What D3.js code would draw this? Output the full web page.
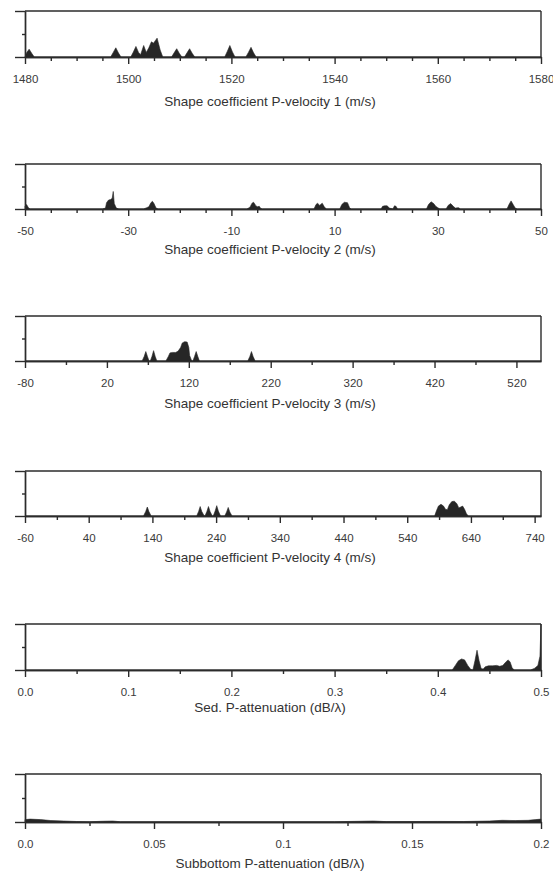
<!DOCTYPE html>
<html lang="en">
<head>
<meta charset="UTF-8">
<title>Shape coefficient and attenuation distributions</title>
<style>
  body { margin: 0; background: #fff; }
  svg { display: block; }
  .axis path, .axis line { stroke: #2b2b2b; stroke-width: 1.4px; fill: none; }
  .axis text { font-family: 'Liberation Sans', Arial, sans-serif; font-size: 11.5px; fill: #3a3a3a; }
  .frame { stroke: #2b2b2b; stroke-width: 1.4px; fill: none; }
  .title { font-family: 'Liberation Sans', Arial, sans-serif; font-size: 13.5px; fill: #333; text-anchor: middle; }
  .dens { fill: #262626; stroke: #262626; stroke-width: 0.6px; }
</style>
</head>
<body>
<svg width="553" height="883"></svg>
<script src="https://d3js.org/d3.v7.min.js"></script>
<script>
// Panel 1: Shape coefficient P-velocity 1
const p1Major = [1480, 1500, 1520, 1540, 1560, 1580];
const p1Minor = [1485, 1490, 1495, 1505, 1510, 1515, 1525, 1530, 1535, 1545, 1550, 1555, 1565, 1570, 1575];
const p1Value = [1480, 1480.3, 1480.8, 1481.3, 1481.8,
  1496.6, 1497.1, 1497.6, 1498.1, 1498.6,
  1500.5, 1501, 1501.5, 1502, 1502.4, 1503, 1503.5, 1504, 1504.5, 1504.9, 1505.6, 1506.2, 1506.7,
  1508.4, 1508.9, 1509.4, 1509.9, 1510.4,
  1510.9, 1511.4, 1511.9, 1512.4, 1512.9,
  1518.7, 1519.2, 1519.7, 1520.2, 1520.7,
  1522.8, 1523.3, 1523.8, 1524.3, 1524.8, 1580];
const p1Density = [0, 0.09, 0.17, 0.08, 0,
  0, 0.1, 0.2, 0.09, 0,
  0, 0.11, 0.23, 0.1, 0.05, 0.25, 0.1, 0.2, 0.33, 0.3, 0.41, 0.15, 0,
  0, 0.09, 0.18, 0.08, 0,
  0, 0.09, 0.18, 0.08, 0,
  0, 0.12, 0.25, 0.11, 0,
  0, 0.1, 0.21, 0.09, 0, 0];

// Panel 2: Shape coefficient P-velocity 2
const p2Major = [-50, -30, -10, 10, 30, 50];
const p2Minor = [-45, -40, -35, -25, -20, -15, -5, 0, 5, 15, 20, 25, 35, 40, 45];
const p2Value = [-50, -49.7, -49.3, -49,
  -35, -34.4, -34.2, -33.8, -33.4, -33.1, -32.9, -32.7, -32.3, -31.8,
  -27, -26.4, -26, -25.6, -25.3, -25, -24.6, -24.2,
  -7, -6.4, -6, -5.7, -5.3, -5, -4.6, -4.3, -4,
  6, 6.4, 6.7, 7.1, 7.6, 8, 8.4,
  11, 11.4, 11.9, 12.5, 12.9, 13.2,
  19, 19.3, 19.7, 20.2, 20.6, 21.3, 21.6, 21.9, 22.2,
  27.8, 28.2, 28.7, 29.2, 29.6, 30, 30.4,
  31.6, 32, 32.5, 33, 33.4, 34, 34.4,
  43.4, 43.8, 44.2, 44.6, 45, 45.4, 50];
const p2Density = [0.06, 0.1, 0.02, 0,
  0, 0.02, 0.14, 0.2, 0.21, 0.24, 0.39, 0.12, 0.02, 0,
  0, 0.03, 0.05, 0.14, 0.17, 0.12, 0.02, 0,
  0, 0.04, 0.13, 0.15, 0.08, 0.05, 0.06, 0.01, 0,
  0, 0.1, 0.13, 0.08, 0.13, 0.05, 0,
  0, 0.1, 0.15, 0.14, 0.03, 0,
  0, 0.06, 0.07, 0.07, 0.02, 0, 0.07, 0.06, 0,
  0, 0.1, 0.16, 0.12, 0.06, 0.03, 0,
  0, 0.08, 0.12, 0.06, 0.02, 0.03, 0,
  0, 0.1, 0.18, 0.1, 0.02, 0, 0];

// Panel 3: Shape coefficient P-velocity 3
const p3Major = [-80, 20, 120, 220, 320, 420, 520];
const p3Minor = [-30, 70, 170, 270, 370, 470];
const p3Value = [-80, 63, 65.5, 67.5, 69.5, 71.5,
  73, 75, 77, 79, 81,
  92, 95, 97, 100, 104, 107, 110, 112, 115, 118, 120, 121, 123, 124,
  125, 127, 129, 131, 133,
  192, 194.5, 196.5, 198.5, 201, 550];
const p3Density = [0, 0, 0.1, 0.21, 0.1, 0,
  0, 0.1, 0.23, 0.1, 0,
  0, 0.1, 0.18, 0.19, 0.19, 0.22, 0.3, 0.4, 0.43, 0.42, 0.3, 0.12, 0.03, 0,
  0, 0.1, 0.21, 0.1, 0,
  0, 0.1, 0.21, 0.1, 0, 0];

// Panel 4: Shape coefficient P-velocity 4
const p4Major = [-60, 40, 140, 240, 340, 440, 540, 640, 740];
const p4Minor = [-10, 90, 190, 290, 390, 490, 590, 690];
const p4Value = [-60, 126, 129.5, 132, 134.5, 138,
  209.5, 212.5, 215, 217.5, 221,
  222.5, 225.5, 228, 230.5, 234,
  235.5, 238.5, 241, 243.5, 247,
  253.5, 256.5, 259, 261.5, 265,
  583, 586, 589, 593, 597, 600, 603, 606, 610, 614, 618, 621, 624, 627, 630, 633, 636, 750];
const p4Density = [0, 0, 0.1, 0.2, 0.1, 0,
  0, 0.1, 0.21, 0.1, 0.01,
  0, 0.1, 0.21, 0.1, 0,
  0, 0.11, 0.23, 0.11, 0,
  0, 0.09, 0.19, 0.09, 0,
  0, 0.12, 0.22, 0.26, 0.22, 0.15, 0.14, 0.25, 0.32, 0.33, 0.27, 0.18, 0.2, 0.22, 0.15, 0.05, 0, 0];

// Panel 5: Sed. P-attenuation
const p5Major = [0, 0.1, 0.2, 0.3, 0.4, 0.5];
const p5Minor = [0.05, 0.15, 0.25, 0.35, 0.45];
const p5Value = [0, 0.414, 0.417, 0.42, 0.423, 0.426, 0.429, 0.432,
  0.434, 0.436, 0.438, 0.44, 0.442, 0.444,
  0.446, 0.449, 0.453, 0.457, 0.46, 0.463, 0.465, 0.468, 0.47, 0.472, 0.474,
  0.49, 0.494, 0.497, 0.499, 0.5];
const p5Density = [0, 0, 0.1, 0.2, 0.24, 0.22, 0.1, 0.01,
  0, 0.2, 0.43, 0.2, 0.03, 0.02,
  0.07, 0.09, 0.09, 0.1, 0.08, 0.1, 0.15, 0.22, 0.18, 0.05, 0,
  0, 0.04, 0.1, 0.3, 1.0];

// Panel 6: Subbottom P-attenuation
const p6Major = [0, 0.05, 0.1, 0.15, 0.2];
const p6Minor = [0.025, 0.075, 0.125, 0.175];
const p6Value = [0, 0.002, 0.006, 0.01, 0.015, 0.02, 0.025, 0.03, 0.034, 0.037, 0.05, 0.08, 0.1, 0.12,
  0.13, 0.135, 0.14, 0.15, 0.16, 0.17, 0.18, 0.185, 0.19, 0.195, 0.198, 0.2];
const p6Density = [0.05, 0.06, 0.05, 0.03, 0.02, 0.01, 0.005, 0.015, 0.02, 0.005, 0.005, 0.004, 0.004, 0.006,
  0.015, 0.02, 0.008, 0.01, 0.012, 0.01, 0.02, 0.035, 0.03, 0.035, 0.05, 0.06];

const titles = [
  "Shape coefficient P-velocity 1 (m/s)",
  "Shape coefficient P-velocity 2 (m/s)",
  "Shape coefficient P-velocity 3 (m/s)",
  "Shape coefficient P-velocity 4 (m/s)",
  "Sed. P-attenuation (dB/\u03bb)",
  "Subbottom P-attenuation (dB/\u03bb)"
];

const fmt1 = d3.format(".1f");
const plain = d => String(d);

const panels = [
  { domain: [1480, 1580], major: p1Major, minor: p1Minor, xs: p1Value, ys: p1Density, fmt: plain, top: 11, base: 57, titleDy: 45 },
  { domain: [-50, 50], major: p2Major, minor: p2Minor, xs: p2Value, ys: p2Density, fmt: plain, top: 164, base: 209, titleDy: 41 },
  { domain: [-80, 550], major: p3Major, minor: p3Minor, xs: p3Value, ys: p3Density, fmt: plain, top: 316, base: 361, titleDy: 43 },
  { domain: [-60, 750], major: p4Major, minor: p4Minor, xs: p4Value, ys: p4Density, fmt: plain, top: 471, base: 516, titleDy: 42 },
  { domain: [0, 0.5], major: p5Major, minor: p5Minor, xs: p5Value, ys: p5Density, fmt: fmt1, top: 624, base: 670, titleDy: 38 },
  { domain: [0, 0.2], major: p6Major, minor: p6Minor, xs: p6Value, ys: p6Density, fmt: d => d === 0 ? "0.0" : String(d), top: 774, base: 822, titleDy: 42 }
];

const left = 25, right = 541, titleX = 270;
const svg = d3.select("svg");

panels.forEach((p, i) => {
  const x = d3.scaleLinear().domain(p.domain).range([left, right]);
  const y = d3.scaleLinear().domain([0, 1]).range([p.base, p.top]);
  const g = svg.append("g");

  const area = d3.area()
    .x(d => x(d[0]))
    .y0(y(0))
    .y1(d => y(d[1]));

  g.append("path")
    .attr("class", "dens")
    .attr("d", area(d3.zip(p.xs, p.ys)));

  // frame: top line and right side
  g.append("line").attr("class", "frame")
    .attr("x1", left).attr("x2", right).attr("y1", y(1)).attr("y2", y(1));
  g.append("line").attr("class", "frame")
    .attr("x1", right).attr("x2", right).attr("y1", y(1)).attr("y2", y(0));

  // x axis
  g.append("g").attr("class", "axis")
    .attr("transform", `translate(0,${y(0)})`)
    .call(d3.axisBottom(x).tickValues(p.minor).tickSize(4).tickSizeOuter(0).tickFormat(""));
  g.append("g").attr("class", "axis")
    .attr("transform", `translate(0,${y(0)})`)
    .call(d3.axisBottom(x).tickValues(p.major).tickSize(7).tickSizeOuter(0).tickPadding(11).tickFormat(p.fmt));

  // y axis
  g.append("g").attr("class", "axis")
    .attr("transform", `translate(${left},0)`)
    .call(d3.axisLeft(y).tickValues([0, 1]).tickSize(10).tickSizeOuter(0).tickFormat(""));
  g.append("g").attr("class", "axis")
    .attr("transform", `translate(${left},0)`)
    .call(d3.axisLeft(y).tickValues([0.5]).tickSize(3).tickSizeOuter(0).tickFormat(""));

  g.append("text")
    .attr("class", "title")
    .attr("x", titleX)
    .attr("y", y(0) + p.titleDy + 4)
    .text(titles[i]);
});
</script>
</body>
</html>
